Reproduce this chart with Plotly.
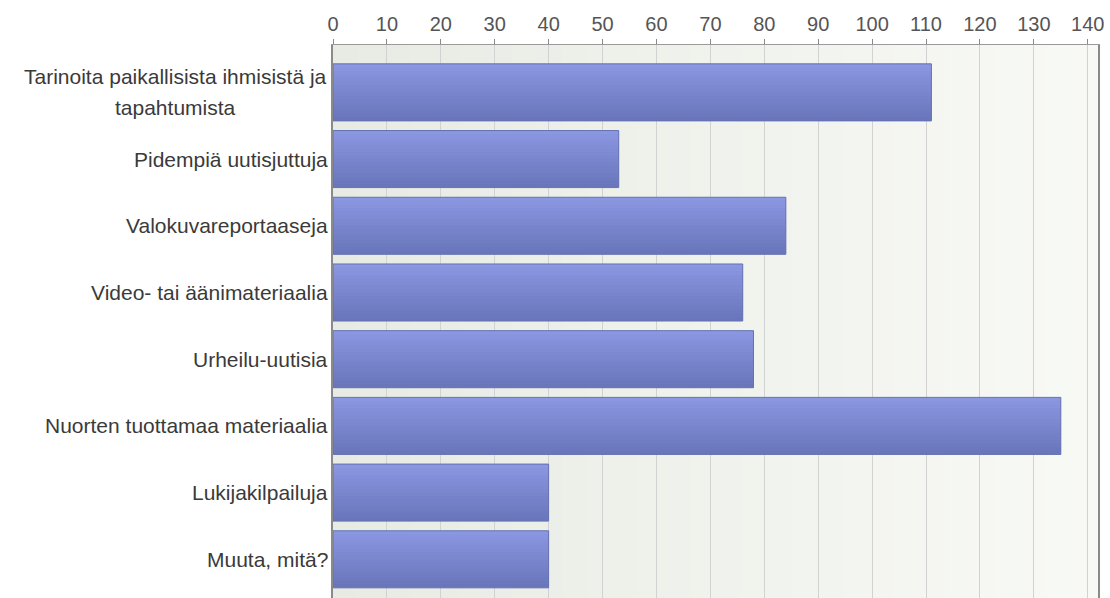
import plotly.graph_objects as go

# Survey answers: what readers would like to see more of
categories = [
    "Tarinoita paikallisista ihmisistä ja<br>tapahtumista",
    "Pidempiä uutisjuttuja",
    "Valokuvareportaaseja",
    "Video- tai äänimateriaalia",
    "Urheilu-uutisia",
    "Nuorten tuottamaa materiaalia",
    "Lukijakilpailuja",
    "Muuta, mitä?",
]
values = [111, 53, 84, 76, 78, 135, 40, 40]
x_ticks = [0, 10, 20, 30, 40, 50, 60, 70, 80, 90, 100, 110, 120, 130, 140]

positions = list(range(len(categories)))
LABEL_FONT = dict(family="Liberation Sans, Arial, sans-serif", size=21, color="#3a3a3a")


def hex_to_rgb(h):
    h = h.lstrip("#")
    return tuple(int(h[i:i + 2], 16) for i in (0, 2, 4))


def blend(c0, c1, t):
    a, b = hex_to_rgb(c0), hex_to_rgb(c1)
    return "rgb(%d,%d,%d)" % tuple(round(a[k] + (b[k] - a[k]) * t) for k in range(3))


fig = go.Figure()

# Bars drawn as stacked horizontal strips to give a top-to-bottom shading
BAR_W = 0.855
N_STRIPS = 16
strip = BAR_W / N_STRIPS
for i in range(N_STRIPS):
    t = i / (N_STRIPS - 1)
    w = strip if i == N_STRIPS - 1 else strip * 1.4
    fig.add_trace(go.Bar(
        x=values, y=positions, orientation="h",
        width=w, offset=-BAR_W / 2 + i * strip,
        marker=dict(color=blend("#8a97e1", "#6976ba", t), line_width=0),
        hoverinfo="skip", showlegend=False,
    ))

# thin outline around each bar
fig.add_trace(go.Bar(
    x=values, y=positions, orientation="h",
    width=BAR_W, offset=-BAR_W / 2,
    marker=dict(color="rgba(0,0,0,0)", line=dict(color="#6571b3", width=1)),
    showlegend=False,
))

# soft left-to-right background shading of the plot area
shapes = []
N_BG = 30
for k in range(N_BG):
    shapes.append(dict(
        type="rect", xref="x domain", yref="y domain",
        x0=k / N_BG, x1=(k + 1) / N_BG + 0.003, y0=0, y1=1,
        fillcolor=blend("#e8ebe4", "#f8f9f5", k / (N_BG - 1)),
        line_width=0, layer="below",
    ))

# category labels next to the axis; wrapped labels get one centred line each
annotations = []
for pos, label in zip(positions, categories):
    lines = label.split("<br>")
    if len(lines) == 1:
        annotations.append(dict(
            x=0, xref="paper", xanchor="right", xshift=-3,
            y=pos, yref="y", yanchor="middle",
            text=label, showarrow=False, font=LABEL_FONT,
        ))
    else:
        n = len(lines)
        for j, line in enumerate(lines):
            annotations.append(dict(
                x=0, xref="paper", xanchor="center", xshift=-158,
                y=pos, yref="y", yanchor="middle",
                yshift=(n - 1) * 16 - j * 31,
                text=line, showarrow=False, font=LABEL_FONT,
            ))

fig.update_layout(
    width=1110, height=598,
    margin=dict(l=333, r=12, t=45, b=0),
    paper_bgcolor="white",
    plot_bgcolor="#f1f3ed",
    barmode="overlay",
    shapes=shapes,
    annotations=annotations,
    xaxis=dict(
        side="top", range=[0, 141.9],
        tickvals=x_ticks, ticktext=[str(v) for v in x_ticks],
        ticks="outside", ticklen=5, tickcolor="#8a8a8a",
        tickfont=dict(family="Liberation Sans, Arial, sans-serif", size=20, color="#555555"),
        showgrid=True, gridcolor="#d2d2d2", gridwidth=1,
        showline=True, linecolor="#9a9a9a", linewidth=1,
        zeroline=False, fixedrange=True,
    ),
    yaxis=dict(
        range=[7.58, -0.71],
        showticklabels=False, ticks="",
        showgrid=False, zeroline=False,
        showline=True, linecolor="#8a8a8a", linewidth=2, mirror=True,
        fixedrange=True,
    ),
)

fig.write_html("out.html")
